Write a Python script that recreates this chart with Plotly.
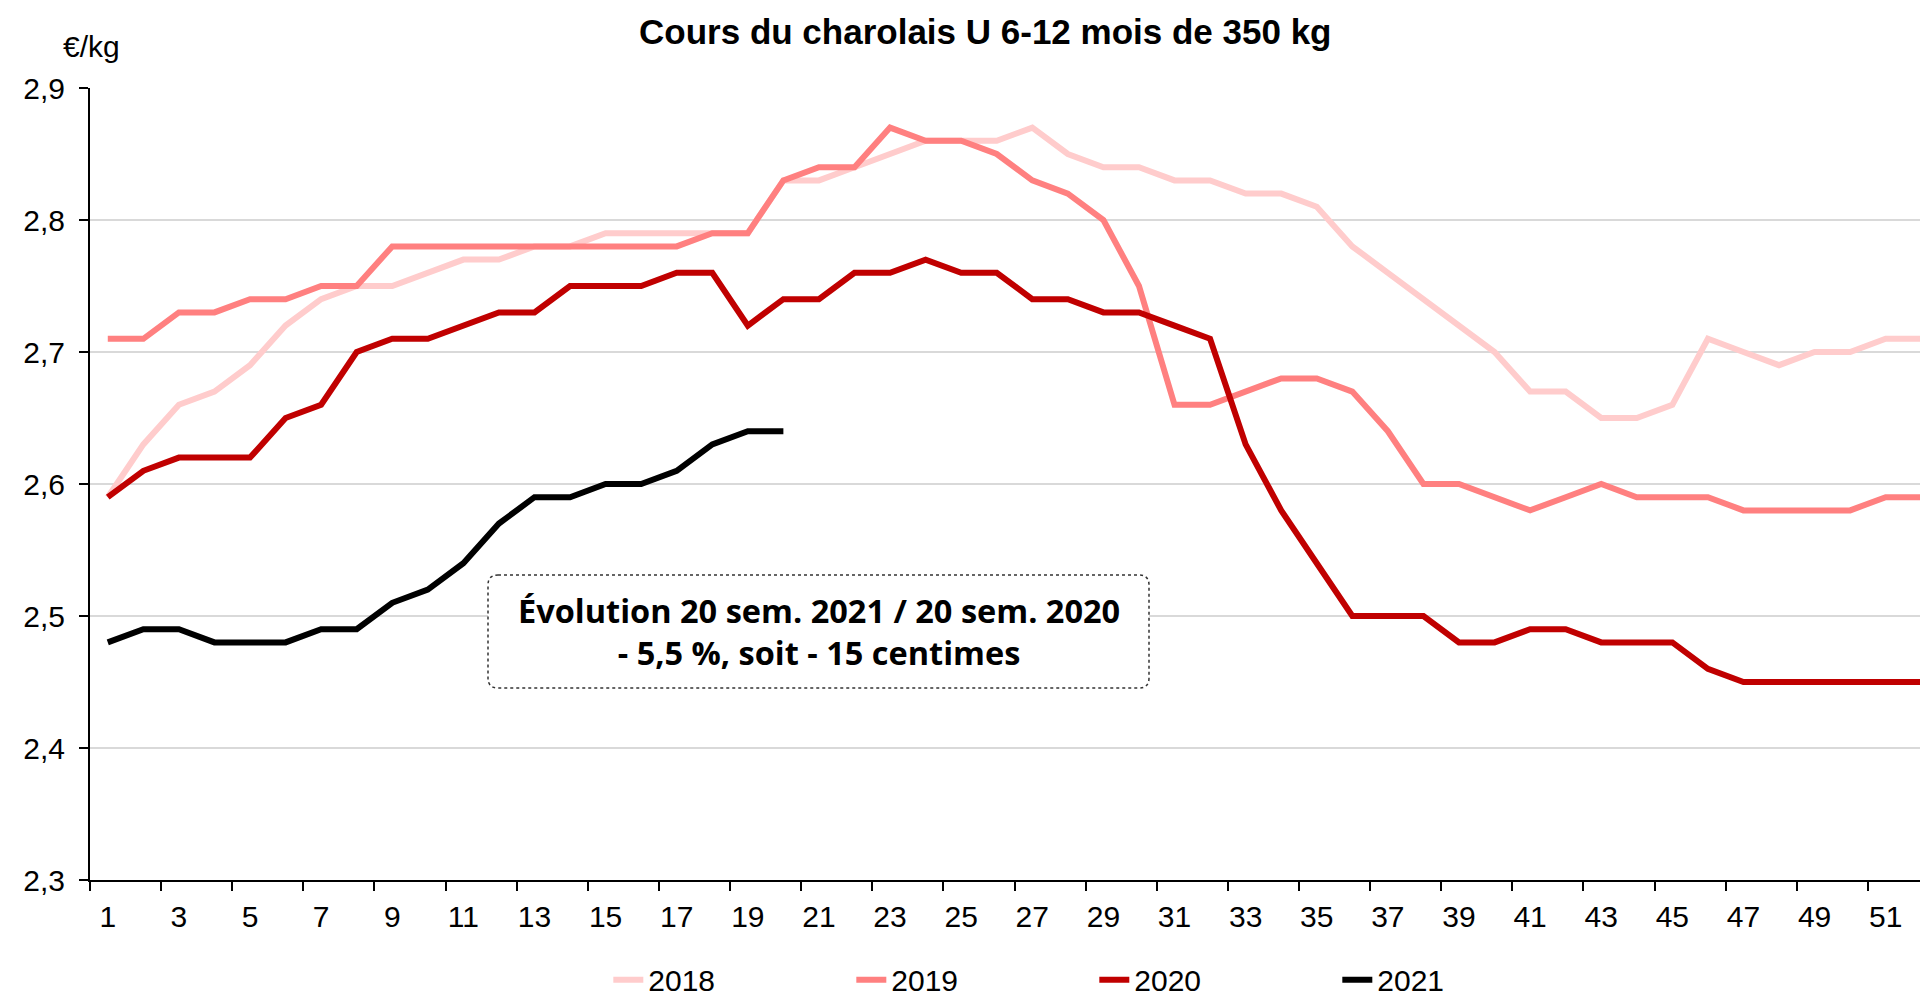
import plotly.graph_objects as go

weeks = list(range(1, 53))

y2018 = [2.59, 2.63, 2.66, 2.67, 2.69, 2.72, 2.74, 2.75, 2.75, 2.76,
         2.77, 2.77, 2.78, 2.78, 2.79, 2.79, 2.79, 2.79, 2.79, 2.83,
         2.83, 2.84, 2.85, 2.86, 2.86, 2.86, 2.87, 2.85, 2.84, 2.84,
         2.83, 2.83, 2.82, 2.82, 2.81, 2.78, 2.76, 2.74, 2.72, 2.70,
         2.67, 2.67, 2.65, 2.65, 2.66, 2.71, 2.70, 2.69, 2.70, 2.70,
         2.71, 2.71]
y2019 = [2.71, 2.71, 2.73, 2.73, 2.74, 2.74, 2.75, 2.75, 2.78, 2.78,
         2.78, 2.78, 2.78, 2.78, 2.78, 2.78, 2.78, 2.79, 2.79, 2.83,
         2.84, 2.84, 2.87, 2.86, 2.86, 2.85, 2.83, 2.82, 2.80, 2.75,
         2.66, 2.66, 2.67, 2.68, 2.68, 2.67, 2.64, 2.60, 2.60, 2.59,
         2.58, 2.59, 2.60, 2.59, 2.59, 2.59, 2.58, 2.58, 2.58, 2.58,
         2.59, 2.59]
y2020 = [2.59, 2.61, 2.62, 2.62, 2.62, 2.65, 2.66, 2.70, 2.71, 2.71,
         2.72, 2.73, 2.73, 2.75, 2.75, 2.75, 2.76, 2.76, 2.72, 2.74,
         2.74, 2.76, 2.76, 2.77, 2.76, 2.76, 2.74, 2.74, 2.73, 2.73,
         2.72, 2.71, 2.63, 2.58, 2.54, 2.50, 2.50, 2.50, 2.48, 2.48,
         2.49, 2.49, 2.48, 2.48, 2.48, 2.46, 2.45, 2.45, 2.45, 2.45,
         2.45, 2.45]
y2021 = [2.48, 2.49, 2.49, 2.48, 2.48, 2.48, 2.49, 2.49, 2.51, 2.52,
         2.54, 2.57, 2.59, 2.59, 2.60, 2.60, 2.61, 2.63, 2.64, 2.64]

series = [("2018", y2018, "#FFCCCC"),
          ("2019", y2019, "#FF8080"),
          ("2020", y2020, "#C00000"),
          ("2021", y2021, "#000000")]

title_text = "Cours du charolais U 6-12 mois de 350 kg"
unit_text = "€/kg"
box_text = "Évolution 20 sem. 2021 / 20 sem. 2020<br>- 5,5 %, soit - 15 centimes"

font_main = "Liberation Sans, Arial, sans-serif"

fig = go.Figure()

for name, vals, color in series:
    fig.add_trace(go.Scatter(x=weeks[:len(vals)], y=vals, name=name, mode="lines",
                             line=dict(color=color, width=6)))

# page body adds 8px, so figure is 1920x985
fig.update_layout(
    width=1920, height=985,
    margin=dict(l=82, r=0, t=80, b=113, autoexpand=False),
    plot_bgcolor="white", paper_bgcolor="white",
    separators=", ",
    font=dict(family=font_main, size=30, color="black"),
    title=dict(text="<b>" + title_text + "</b>", x=0.509, xanchor="center",
               y=0.976, yanchor="middle", font=dict(size=35, color="black")),
    showlegend=True,
    legend=dict(orientation="h", x=0.282, xanchor="left", y=-0.126, yanchor="middle",
                font=dict(size=30), entrywidth=198, entrywidthmode="pixels",
                bgcolor="rgba(0,0,0,0)"),
)

fig.update_xaxes(
    range=[0.5, 52.19], tickmode="linear", tick0=1, dtick=2, ticks="",
    showline=True, linecolor="black", linewidth=2, showgrid=False, zeroline=False,
    tickfont=dict(size=30), ticklabelstandoff=9,
    minor=dict(tick0=0.5, dtick=2, ticks="outside", ticklen=9, tickwidth=2,
               tickcolor="black", showgrid=False),
)
fig.update_yaxes(
    range=[2.3, 2.9], tickmode="linear", tick0=2.3, dtick=0.1, tickformat=".1f",
    ticks="outside", ticklen=9, tickwidth=2, tickcolor="black",
    showline=True, linecolor="black", linewidth=2,
    showgrid=True, gridcolor="#D9D9D9", gridwidth=2, zeroline=False,
    tickfont=dict(size=30), ticklabelstandoff=8,
)

# unité
fig.add_annotation(text=unit_text, xref="paper", yref="paper", x=0.001, y=1.053,
                   xanchor="center", yanchor="middle", showarrow=False,
                   font=dict(size=30, color="black"))

# cadre pointillé arrondi (pixels page -> paper)
x0, x1 = (488 - 90) / 1838, (1149 - 90) / 1838
y0, y1 = (880 - 688) / 792, (880 - 575) / 792
rx, ry = 10 / 1838, 10 / 792
path = (f"M {x0 + rx},{y1} L {x1 - rx},{y1} Q {x1},{y1} {x1},{y1 - ry} "
        f"L {x1},{y0 + ry} Q {x1},{y0} {x1 - rx},{y0} L {x0 + rx},{y0} "
        f"Q {x0},{y0} {x0},{y0 + ry} L {x0},{y1 - ry} Q {x0},{y1} {x0 + rx},{y1} Z")
fig.add_shape(type="path", path=path, xref="paper", yref="paper",
              line=dict(color="#333333", width=1.5, dash="dot"), fillcolor="white")
fig.add_annotation(text="<b>" + box_text + "</b>", xref="paper", yref="paper",
                   x=(x0 + x1) / 2, y=(y0 + y1) / 2, xanchor="center", yanchor="middle",
                   showarrow=False, align="center",
                   font=dict(family="Open Sans, Lato, sans-serif", size=32.5, color="black"))

fig.write_html("out.html")
